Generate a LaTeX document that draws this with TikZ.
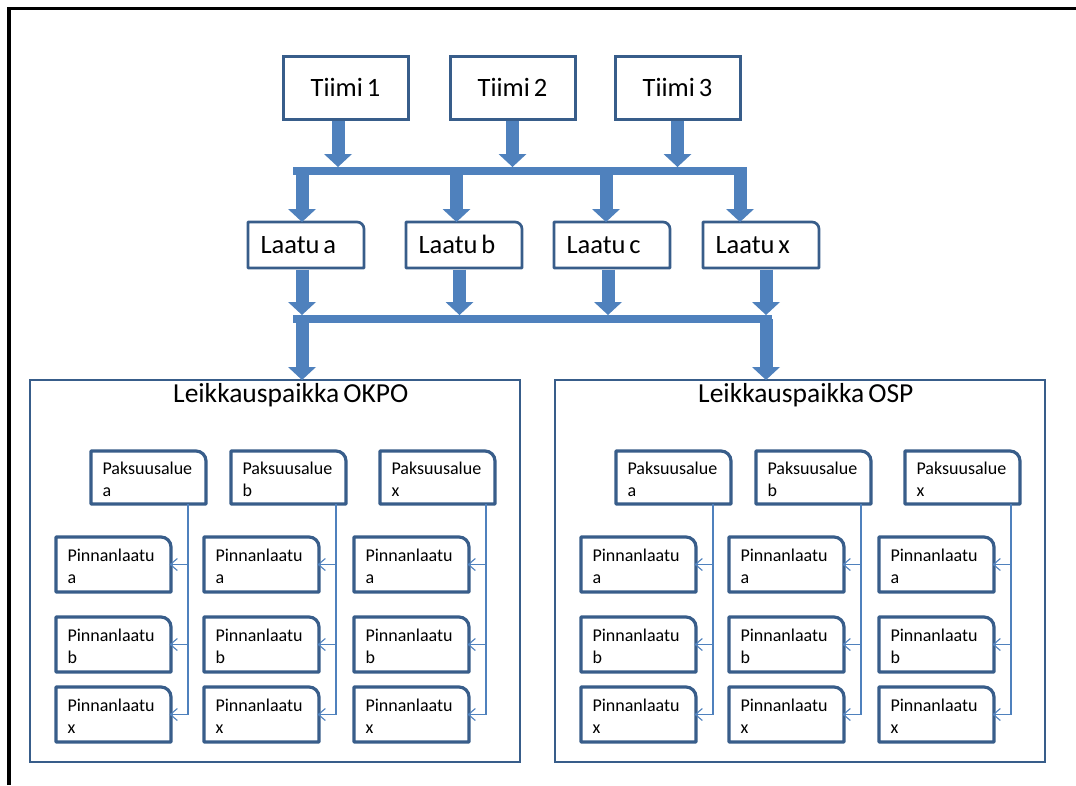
\documentclass[tikz,border=0pt]{standalone}
\usepackage{fontspec}
\setmainfont{Carlito}[WordSpace=0.65]
\usetikzlibrary{arrows.meta}
\definecolor{flow}{HTML}{4F81BD}
\definecolor{edge}{HTML}{385D8A}
\newcommand\headfont{\fontsize{26.5}{30}\selectfont}
\newcommand\titlefont{\fontsize{27.5}{31}\selectfont}
\newcommand\cellfont{\fontsize{18}{21.5}\selectfont}
% left-aligned label inside a grade box
\newcommand\leftlabel[1]{\makebox[91pt][l]{#1}}
% outline of a box whose top right corner is rounded
\newcommand\tabframe[3]{%
  \draw[#3] (#1.south west) -- (#1.north west) -- ([xshift=-#2pt]#1.north east)
    arc[start angle=90,end angle=0,radius=#2pt] -- (#1.south east) -- cycle;}
\tikzset{
  team/.style={draw=edge, line width=3pt, fill=white, minimum width=125pt,
    minimum height=63pt, inner sep=0pt, outer sep=0pt, font=\headfont,
    text height=17pt, text depth=0pt},
  grade/.style={fill=white, anchor=north west, minimum width=116pt,
    minimum height=46pt, inner xsep=12.5pt,
    inner ysep=0pt, outer sep=0pt, font=\headfont, text height=17pt, text depth=0pt},
  cell/.style={fill=white, anchor=north west, minimum width=115pt,
    minimum height=#1, text width=92pt, align=left, inner xsep=11.5pt,
    inner ysep=0pt, outer sep=0pt, font=\cellfont, text height=16pt},
  site/.style={draw=edge, line width=2.5pt, fill=white, anchor=north west,
    minimum width=490pt, minimum height=382pt, inner sep=0pt, outer sep=0pt},
  sitetitle/.style={anchor=base west, inner sep=0pt, font=\titlefont},
  gradeframe/.style={draw=edge, line width=2.7pt, line join=round},
  cellframe/.style={draw=edge, line width=3.2pt, line join=round},
  bus/.style={draw=flow, line width=8pt},
  feed/.style={draw=flow, line width=13pt,
    -{Triangle[width=28pt,length=13pt,line width=0pt]}},
  link/.style={draw=flow, line width=1.1pt, shorten >=-1.5pt,
    -{Straight Barb[length=7pt,width=12pt]}},
}
\begin{document}
\begin{tikzpicture}[x=1pt,y=-1pt]
\useasboundingbox (0,0) rectangle (1076,785);
% page frame
\draw[line width=3.3pt] (9,785) -- (9,8.5) -- (1076,8.5);

% cutting sites
\node[site] (okpo) at (30,380) {};
\node[site] (osp) at (555,380) {};
\node[sitetitle] (okpo-t) at ([shift={(143,22)}]okpo.north west) {Leikkauspaikka OKPO};
\node[sitetitle] (osp-t) at ([shift={(143,22)}]osp.north west) {Leikkauspaikka OSP};

% teams
\node[team] (t1) at (345.5,87.5) {Tiimi 1};
\node[team] (t2) at (512.5,87.5) {Tiimi 2};
\node[team] (t3) at (677.5,87.5) {Tiimi 3};

% grades
\node[grade] (la) at (248,222) {\leftlabel{Laatu a}};
\node[grade] (lb) at (406,222) {\leftlabel{Laatu b}};
\node[grade] (lc) at (554,222) {\leftlabel{Laatu c}};
\node[grade] (lx) at (703,222) {\leftlabel{Laatu x}};
\foreach \n in {la,lb,lc,lx} {\tabframe{\n}{7}{gradeframe}}

% collecting bars
\coordinate (busA-w) at (293,171);
\coordinate (busA-e) at (747,171);
\coordinate (busB-w) at (293,319);
\coordinate (busB-e) at (772,319);
\draw[bus] (busA-w) -- (busA-e);
\draw[bus] (busB-w) -- (busB-e);

% teams into the upper bar
\foreach \n/\sx in {t1/-7.5,t2/0,t3/0}
  \draw[feed] ([xshift=\sx pt,yshift=-1.5pt]\n.south) -- ([xshift=\sx pt,yshift=4pt]\n.south |- busA-w);
% upper bar down to the grades
\foreach \n/\sx in {la/-4,lb/-7.5,lc/-6,lx/-21}
  \draw[feed] ([xshift=\sx pt]\n.north |- busA-w) -- ([xshift=\sx pt]\n.north);
% grades into the lower bar
\foreach \n/\sx in {la/-4,lb/-4.5,lc/-4,lx/5}
  \draw[feed] ([xshift=\sx pt,yshift=-1.5pt]\n.south) -- ([xshift=\sx pt,yshift=4pt]\n.south |- busB-w);
% lower bar down to the sites
\draw[feed] ([xshift=27pt]okpo.north |- busB-w) -- ([xshift=27pt]okpo.north);
\draw[feed] ([xshift=-34pt]osp.north |- busB-w) -- ([xshift=-34pt]osp.north);

% thickness ranges and surface grades of both sites
\foreach \side/\dx in {A/0,B/525} {
  \foreach \col/\kx/\qx/\lab in {1/91/56/a,2/231/204/b,3/380/354/x} {
    \node[cell=53pt] (pk-\side\col) at (\kx+\dx,451) {Paksuusalue\\\lab};
    \tabframe{pk-\side\col}{10}{cellframe}
    \foreach \row/\qy/\rl in {1/537/a,2/617/b,3/687/x} {
      \node[cell=55pt] (pn-\side\col\row) at (\qx+\dx,\qy) {Pinnanlaatu\\\rl};
      \tabframe{pn-\side\col\row}{10}{cellframe}
      \draw[link] ([xshift=17pt]pn-\side\col1.east |- pk-\side\col.south) |- (pn-\side\col\row.east);
    }
  }
}
\end{tikzpicture}
\end{document}
